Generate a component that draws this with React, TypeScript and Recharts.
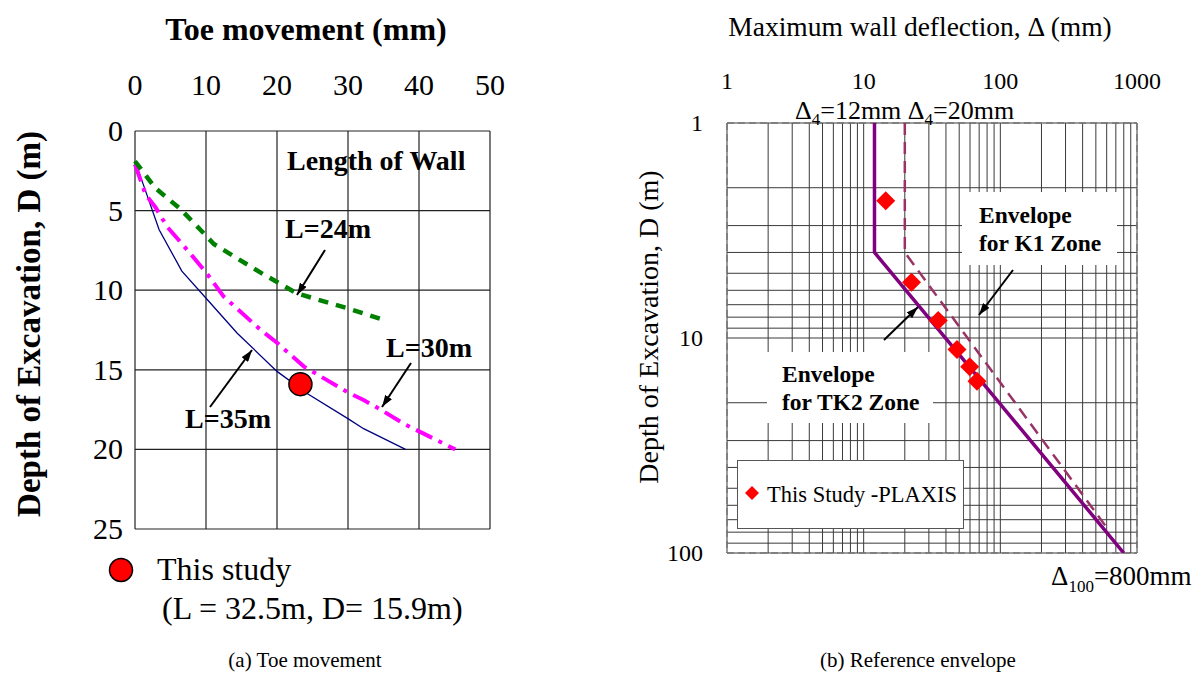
import React from 'react';
import {
  ComposedChart,
  Line,
  Scatter,
  XAxis,
  YAxis,
  CartesianGrid,
  ReferenceLine,
  Legend,
} from 'recharts';

const SERIF = '"Liberation Serif", "Times New Roman", serif';

// (a) toe movement against depth of excavation, per wall length
const toeTicks = [0, 10, 20, 30, 40, 50];
const depthTicksA = [0, 5, 10, 15, 20, 25];

const wallL35 = [
  { x: 0, y: 1.9 }, { x: 1.2, y: 3.4 }, { x: 3.4, y: 6.2 }, { x: 6.6, y: 8.8 },
  { x: 10.2, y: 10.6 }, { x: 14.4, y: 12.7 }, { x: 20.0, y: 15.1 }, { x: 24.3, y: 16.5 },
  { x: 30.1, y: 18.1 }, { x: 32.2, y: 18.7 }, { x: 38.1, y: 20.0 },
];
const wallL30 = [
  { x: 0, y: 2.1 }, { x: 1.5, y: 4.0 }, { x: 2.9, y: 4.8 }, { x: 4.5, y: 6.0 },
  { x: 7.8, y: 7.7 }, { x: 10.2, y: 9.0 }, { x: 12.5, y: 10.4 }, { x: 17.7, y: 12.5 },
  { x: 20.0, y: 13.3 }, { x: 23.8, y: 14.8 }, { x: 29.9, y: 16.4 }, { x: 32.2, y: 16.9 },
  { x: 34.6, y: 17.5 }, { x: 37.9, y: 18.4 }, { x: 45.1, y: 20.0 },
];
const wallL24 = [
  { x: 0, y: 1.9 }, { x: 2.9, y: 3.6 }, { x: 6.4, y: 4.9 }, { x: 9.2, y: 6.2 },
  { x: 11.1, y: 7.1 }, { x: 17.7, y: 8.9 }, { x: 22.8, y: 10.2 }, { x: 30.4, y: 11.2 },
  { x: 35.3, y: 11.9 },
];
const thisStudyToe = [{ x: 23.3, y: 15.9 }];

// (b) max wall deflection envelopes (log-log)
const deflTicks = [1, 10, 100, 1000];
const deflGrid = [
  2, 3, 4, 5, 6, 7, 8, 9, 10,
  20, 30, 40, 50, 60, 70, 80, 90, 100,
  200, 300, 400, 500, 600, 700, 800, 900,
];
const depthTicksB = [1, 10, 100];
const depthGrid = [2, 3, 4, 5, 6, 7, 8, 9, 10, 20, 30, 40, 50, 60, 70, 80, 90];

const envelopeTK2 = [{ x: 12, y: 1 }, { x: 12, y: 4 }, { x: 800, y: 100 }];
const envelopeK1 = [{ x: 20, y: 1 }, { x: 20, y: 4 }, { x: 590, y: 75 }];
const plaxis = [
  { x: 14.5, y: 2.3 }, { x: 22.4, y: 5.5 }, { x: 35.1, y: 8.3 },
  { x: 48.2, y: 11.3 }, { x: 59.7, y: 13.6 }, { x: 67.5, y: 15.9 },
];

const Diamond = (p: any) => (
  <polygon
    points={`${p.cx},${p.cy - 9.5} ${p.cx + 9.5},${p.cy} ${p.cx},${p.cy + 9.5} ${p.cx - 9.5},${p.cy}`}
    fill="#ff0000"
  />
);

const RedDot = (p: any) => (
  <circle cx={p.cx} cy={p.cy} r={11.5} fill="#ff0000" stroke="#000" strokeWidth={1.5} />
);

function ToeChart() {
  return (
    <ComposedChart
      width={530}
      height={675}
      margin={{ top: 0, right: 40, bottom: 146, left: 0 }}
      style={{ position: 'absolute', left: 0, top: 0 }}
    >
      <CartesianGrid stroke="#222" strokeWidth={1.2} />
      <XAxis
        type="number"
        dataKey="x"
        orientation="top"
        domain={[0, 50]}
        ticks={toeTicks}
        interval={0}
        height={131}
        axisLine={false}
        tickLine={false}
        tick={(p: any) => (
          <text x={p.x} y={95} textAnchor="middle" fontSize={30} fontFamily={SERIF} fill="#000">
            {p.payload.value}
          </text>
        )}
      />
      <YAxis
        type="number"
        dataKey="y"
        reversed
        domain={[0, 25]}
        ticks={depthTicksA}
        interval={0}
        width={135}
        axisLine={false}
        tickLine={false}
        tick={(p: any) => (
          <text x={123} y={p.y + 10} textAnchor="end" fontSize={30} fontFamily={SERIF} fill="#000">
            {p.payload.value}
          </text>
        )}
      />
      <Line data={wallL35} dataKey="y" stroke="#000080" strokeWidth={1.3} dot={false} isAnimationActive={false} />
      <Line
        data={wallL30}
        dataKey="y"
        stroke="#ff00ff"
        strokeWidth={4}
        strokeDasharray="18 7 4 7"
        dot={false}
        isAnimationActive={false}
      />
      <Line
        data={wallL24}
        dataKey="y"
        stroke="#008000"
        strokeWidth={4.5}
        strokeDasharray="10 8"
        dot={false}
        isAnimationActive={false}
      />
      <Scatter data={thisStudyToe} shape={RedDot} isAnimationActive={false} />
      <Legend
        layout="vertical"
        align="center"
        verticalAlign="middle"
        wrapperStyle={{ left: 100, top: 550, width: 400, height: 85 }}
        content={() => (
          <svg width={400} height={85} style={{ fontFamily: SERIF }}>
            <circle cx={21} cy={20} r={11.5} fill="#ff0000" stroke="#000" strokeWidth={1.5} />
            <text x={57} y={30} fontSize={32} fill="#000">This study</text>
            <text x={62} y={69} fontSize={32} fill="#000">(L = 32.5m, D= 15.9m)</text>
          </svg>
        )}
      />
    </ComposedChart>
  );
}

function EnvelopeChart() {
  return (
    <ComposedChart
      width={603}
      height={675}
      margin={{ top: 0, right: 66, bottom: 122, left: 0 }}
      style={{ position: 'absolute', left: 600, top: 0 }}
    >
      <XAxis xAxisId="g" type="number" dataKey="x" scale="log" domain={[1, 1000]} ticks={deflGrid} interval={0} hide orientation="top" allowDataOverflow />
      <YAxis yAxisId="g" type="number" dataKey="y" scale="log" domain={[1, 100]} ticks={depthGrid} interval={0} hide reversed allowDataOverflow />
      <CartesianGrid xAxisId="g" yAxisId="g" stroke="#3a3a3a" strokeWidth={1} />
      <XAxis
        type="number"
        dataKey="x"
        scale="log"
        domain={[1, 1000]}
        ticks={deflTicks}
        interval={0}
        orientation="top"
        height={123}
        allowDataOverflow
        axisLine={false}
        tickLine={false}
        tick={(p: any) => (
          <text x={p.x} y={89} textAnchor="middle" fontSize={24} fontFamily={SERIF} fill="#000">
            {p.payload.value}
          </text>
        )}
      />
      <YAxis
        type="number"
        dataKey="y"
        scale="log"
        domain={[1, 100]}
        ticks={depthTicksB}
        interval={0}
        reversed
        width={127}
        allowDataOverflow
        axisLine={false}
        tickLine={false}
        tick={(p: any) => (
          <text x={103} y={p.y + 8} textAnchor="end" fontSize={24} fontFamily={SERIF} fill="#000">
            {p.payload.value}
          </text>
        )}
      />
      <ReferenceLine x={1} stroke="#777" strokeWidth={1.5} strokeDasharray="7 4" />
      <ReferenceLine x={1000} stroke="#777" strokeWidth={1.5} strokeDasharray="7 4" />
      <ReferenceLine y={1} stroke="#777" strokeWidth={1.5} strokeDasharray="7 4" />
      <ReferenceLine y={100} stroke="#777" strokeWidth={1.5} strokeDasharray="7 4" />
      <Line
        data={envelopeK1}
        dataKey="y"
        stroke="#993366"
        strokeWidth={2.5}
        strokeDasharray="12 7"
        dot={false}
        isAnimationActive={false}
      />
      <Line data={envelopeTK2} dataKey="y" stroke="#800080" strokeWidth={3.5} dot={false} isAnimationActive={false} />
      <Scatter data={plaxis} shape={Diamond} isAnimationActive={false} />
      <Legend
        layout="vertical"
        align="center"
        verticalAlign="middle"
        wrapperStyle={{
          left: 137,
          top: 460,
          width: 227,
          height: 69,
          border: '1.5px solid #555',
          background: '#fff',
          boxSizing: 'border-box',
        }}
        content={() => (
          <svg width={224} height={66} style={{ fontFamily: SERIF }}>
            <polygon points="14,25 21,32 14,39 7,32" fill="#ff0000" />
            <text x={29} y={41} fontSize={22.5} fill="#000">This Study -PLAXIS</text>
          </svg>
        )}
      />
    </ComposedChart>
  );
}

function Annotations() {
  const bold = { fontFamily: SERIF, fontWeight: 700, fill: '#000' };
  const reg = { fontFamily: SERIF, fill: '#000' };
  return (
    <svg
      width={1203}
      height={675}
      style={{ position: 'absolute', left: 0, top: 0, pointerEvents: 'none' }}
    >
      <defs>
        <marker id="ah" viewBox="0 0 12 8" refX={12} refY={4} markerWidth={12} markerHeight={8} markerUnits="userSpaceOnUse" orient="auto">
          <path d="M0,0 L12,4 L0,8 z" fill="#000" />
        </marker>
      </defs>

      {/* panel (a) */}
      <text x={306} y={40} textAnchor="middle" fontSize={32} {...bold}>Toe movement (mm)</text>
      <text transform="translate(40,324) rotate(-90)" textAnchor="middle" fontSize={33} {...bold}>
        Depth of Excavation, D (m)
      </text>
      <text x={287} y={170} fontSize={28} {...bold}>Length of Wall</text>
      <text x={285} y={238} fontSize={28} {...bold}>L=24m</text>
      <text x={386} y={357} fontSize={28} {...bold}>L=30m</text>
      <text x={185} y={428} fontSize={28} {...bold}>L=35m</text>
      <line x1={325} y1={250} x2={297} y2={295} stroke="#000" strokeWidth={2} markerEnd="url(#ah)" />
      <line x1={411} y1={363} x2={382} y2={407} stroke="#000" strokeWidth={2} markerEnd="url(#ah)" />
      <line x1={210} y1={407} x2={252} y2={350} stroke="#000" strokeWidth={2} markerEnd="url(#ah)" />
      <text x={305} y={667} textAnchor="middle" fontSize={21} {...reg}>(a) Toe movement</text>

      {/* panel (b) */}
      <text x={920} y={36} textAnchor="middle" fontSize={27.5} {...reg}>Maximum wall deflection, Δ (mm)</text>
      <text transform="translate(658,327) rotate(-90)" textAnchor="middle" fontSize={28} {...reg}>
        Depth of Excavation, D (m)
      </text>
      <text x={795} y={119} fontSize={26} {...reg}>
        Δ<tspan fontSize={17} dy={6}>4</tspan>
        <tspan dy={-6}>=12mm Δ</tspan>
        <tspan fontSize={17} dy={6}>4</tspan>
        <tspan dy={-6}>=20mm</tspan>
      </text>
      <text x={1051} y={585} fontSize={27} {...reg}>
        Δ<tspan fontSize={17} dy={7}>100</tspan>
        <tspan dy={-7}>=800mm</tspan>
      </text>

      <rect x={962} y={192} width={155} height={73} fill="#fff" />
      <text x={979} y={223} fontSize={23.5} {...bold}>Envelope</text>
      <text x={979} y={251} fontSize={23.5} {...bold}>for K1 Zone</text>
      <line x1={1013} y1={270} x2={979} y2={315} stroke="#000" strokeWidth={2} markerEnd="url(#ah)" />

      <rect x={767} y={352} width={166} height={71} fill="#fff" />
      <text x={782} y={382} fontSize={23.5} {...bold}>Envelope</text>
      <text x={782} y={410} fontSize={23.5} {...bold}>for TK2 Zone</text>
      <line x1={884} y1={340} x2={918} y2={307} stroke="#000" strokeWidth={2} markerEnd="url(#ah)" />

      <text x={918} y={667} textAnchor="middle" fontSize={21} {...reg}>(b) Reference envelope</text>
    </svg>
  );
}

export default function App() {
  return (
    <div style={{ position: 'absolute', left: 0, top: 0, width: 1203, height: 675, background: '#fff' }}>
      <ToeChart />
      <EnvelopeChart />
      <Annotations />
    </div>
  );
}
